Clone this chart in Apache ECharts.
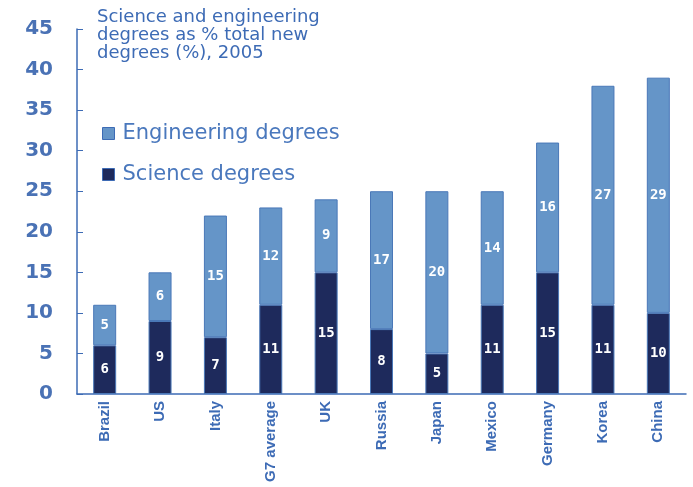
<!DOCTYPE html>
<html><head><meta charset="utf-8">
<script src="https://cdn.jsdelivr.net/npm/echarts@6/dist/echarts.min.js"></script>
<style>html,body{margin:0;padding:0;background:#fff}#c{width:693px;height:487px}</style>
</head><body><div id="c"></div>
<script>
const categories = ['Brazil','US','Italy','G7 average','UK','Russia','Japan','Mexico','Germany','Korea','China'];
const science = [6,9,7,11,15,8,5,11,15,11,10];
const engineering = [5,6,15,12,9,17,20,14,16,27,29];
const yTicks = [0,5,10,15,20,25,30,35,40,45];

const chart = echarts.init(document.getElementById('c'));
const lbl = {show:true, position:'inside', color:'#fff', fontFamily:'DejaVu Sans Mono', fontWeight:'bold', fontSize:14};
chart.setOption({
  animation:false,
  title:{text:'Science and engineering\ndegrees as % total new\ndegrees (%), 2005', left:92, top:3,
    textStyle:{color:'#3d6bb5', fontFamily:'DejaVu Sans', fontSize:18, fontWeight:'normal', lineHeight:18}},
  legend:{orient:'vertical', left:97, top:118, itemGap:20, itemWidth:12, itemHeight:12, icon:'rect',
    data:['Engineering degrees','Science degrees'],
    itemStyle:{borderColor:'#3d6bb5', borderWidth:1},
    textStyle:{color:'#4a78bd', fontFamily:'DejaVu Sans', fontSize:21, padding:[0,0,0,3]}},
  grid:{left:77, right:7, top:29, bottom:93},
  xAxis:{type:'category', data:categories,
    axisLine:{lineStyle:{color:'#3d6bb5', width:1.5}},
    axisTick:{inside:true, length:5, lineStyle:{color:'#3d6bb5'}},
    axisLabel:{rotate:90, margin:7, color:'#3d6bb5', fontFamily:'Liberation Sans', fontWeight:'bold', fontSize:15}},
  yAxis:{type:'value', min:0, max:45, interval:5,
    splitLine:{show:false},
    axisLine:{show:true, lineStyle:{color:'#3d6bb5', width:1.5}},
    axisTick:{show:true, inside:true, length:6, lineStyle:{color:'#3d6bb5'}},
    axisLabel:{margin:24, color:'#4a72b5', fontFamily:'DejaVu Sans', fontWeight:'bold', fontSize:20,
      formatter:v=>yTicks.includes(v)?String(v):''}},
  series:[
    {name:'Science degrees', type:'bar', stack:'s', barWidth:23, data:science,
      itemStyle:{color:'#1e2a5c', borderColor:'#4a78b8', borderWidth:1}, label:lbl},
    {name:'Engineering degrees', type:'bar', stack:'s', barWidth:23, data:engineering,
      itemStyle:{color:'#6595c8', borderColor:'#4a78b8', borderWidth:1}, label:lbl}
  ]
});
</script></body></html>
